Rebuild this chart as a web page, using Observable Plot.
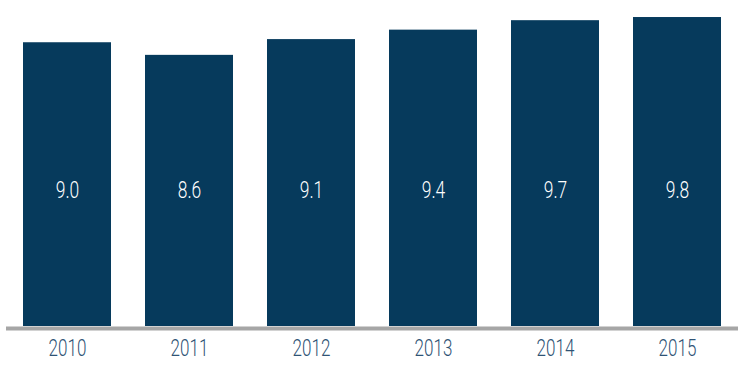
<!DOCTYPE html>
<html>
<head>
<meta charset="utf-8">
<script src="https://cdn.jsdelivr.net/npm/d3@7"></script>
<script src="https://cdn.jsdelivr.net/npm/@observablehq/plot@0.6"></script>
<style>
  html, body { margin: 0; padding: 0; background: #ffffff; }
  #chart svg { display: block; }
</style>
</head>
<body>
<div id="chart"></div>
<script>
const years = ["2010", "2011", "2012", "2013", "2014", "2015"];
const values = [9.0, 8.6, 9.1, 9.4, 9.7, 9.8];
const labelLevel = 4.3; // value level at which the in-bar labels sit

const data = years.map((year, i) => ({ year, value: values[i] }));

const font = "Roboto, 'Liberation Sans', sans-serif";

const chart = Plot.plot({
  width: 750,
  height: 379,
  marginTop: 0,
  marginLeft: 6,
  marginRight: 12,
  marginBottom: 53,
  style: { fontFamily: font, background: "#ffffff" },
  x: {
    domain: years,
    paddingInner: 0.28,
    paddingOuter: 0.14,
    label: null,
    tickSize: 0,
    tickPadding: 13
  },
  y: { domain: [0, 10.34], axis: null },
  marks: [
    Plot.barY(data, { x: "year", y: "value", fill: "#063a5c" }),
    Plot.ruleY([0], { stroke: "#a6a6a6", strokeWidth: 4, dy: 2 }),
    Plot.text(data, {
      x: "year",
      y: () => labelLevel,
      text: d => d.value.toFixed(1),
      fill: "#ffffff",
      fontSize: 23.5,
      fontWeight: 300,
      fontFamily: font
    }),
    Plot.axisX({
      tickSize: 0,
      tickPadding: 13,
      fontSize: 23,
      fontWeight: 300,
      fontFamily: font,
      color: "#2f5375",
      label: null
    })
  ]
});

document.getElementById("chart").appendChild(chart);

// condense the glyphs to mimic the narrow typeface of the original
d3.select(chart).selectAll("text").each(function () {
  const len = this.getComputedTextLength();
  if (len > 0) {
    this.setAttribute("textLength", (len * 0.74).toFixed(1));
    this.setAttribute("lengthAdjust", "spacingAndGlyphs");
  }
});
</script>
</body>
</html>
